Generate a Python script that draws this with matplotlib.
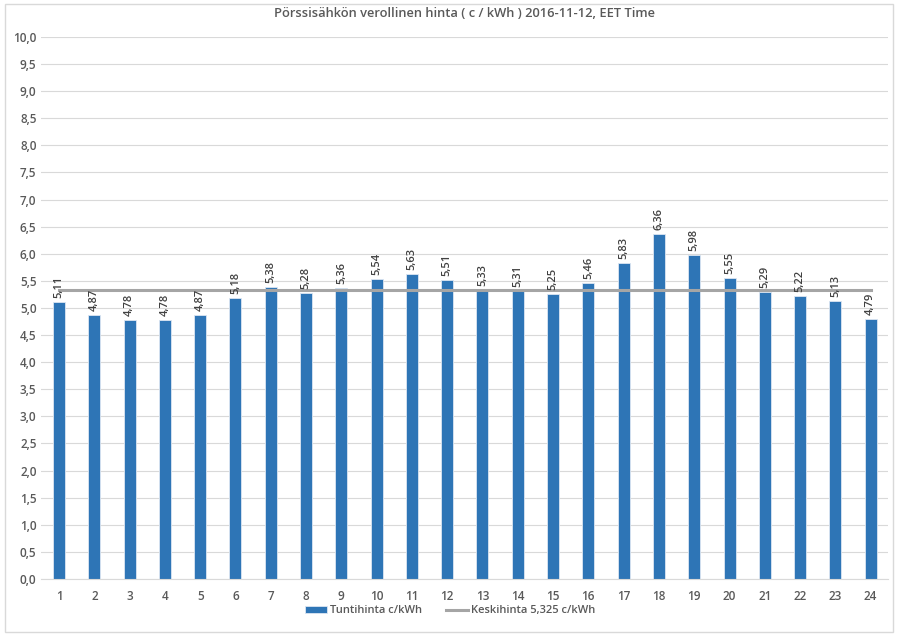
import matplotlib.pyplot as plt
from matplotlib.patches import Rectangle

hours = list(range(1, 25))
prices = [5.11, 4.87, 4.78, 4.78, 4.87, 5.18, 5.38, 5.28, 5.36, 5.54, 5.63, 5.51,
          5.33, 5.31, 5.25, 5.46, 5.83, 6.36, 5.98, 5.55, 5.29, 5.22, 5.13, 4.79]
average = 5.325
yticks = [i * 0.5 for i in range(21)]

plt.rcParams['font.family'] = ['Open Sans', 'DejaVu Sans']
txt = '#595959'

fig = plt.figure(figsize=(9, 6.36), dpi=100)
ax = fig.add_axes([0.046, 0.0896, 0.941, 0.8524])

bars = ax.bar(hours, prices, width=0.34, color='#2E75B6', edgecolor='#DCE6F2',
              lw=0.6, zorder=2)
line, = ax.plot(hours, [average] * len(hours), color='#A5A5A5', lw=2.2, zorder=3)

for h, p in zip(hours, prices):
    ax.annotate(f'{p:.2f}'.replace('.', ','), (h, p), xytext=(0, 3),
                textcoords='offset points', rotation=90, ha='center', va='bottom',
                fontsize=8, color='#404040', fontweight='semibold', zorder=4)

ax.set_xlim(0.5, 24.5)
ax.set_ylim(0, 10)
ax.set_yticks(yticks)
ax.set_yticklabels([f'{v:.1f}'.replace('.', ',') for v in yticks])
ax.set_xticks(hours)
ax.tick_params(length=0, labelsize=8.5, colors=txt)
ax.tick_params(axis='x', pad=8)
for lab in ax.get_xticklabels() + ax.get_yticklabels():
    lab.set_fontweight('semibold')
ax.grid(axis='y', color='#D9D9D9', lw=0.8, zorder=0)
for s in ['top', 'right', 'left']:
    ax.spines[s].set_visible(False)
ax.spines['bottom'].set_color('#D9D9D9')

ax.set_title('Pörssisähkön verollinen hinta ( c / kWh ) 2016-11-12, EET Time',
             fontsize=9.3, color=txt, fontweight='semibold', pad=14)

leg = fig.legend([bars, line], ['Tuntihinta c/kWh', 'Keskihinta 5,325 c/kWh'],
                 loc='lower center', bbox_to_anchor=(0.5, 0.015), ncol=2, frameon=False,
                 fontsize=8, labelcolor=txt, handlelength=2.0, columnspacing=2.2,
                 handletextpad=0.2)
for t in leg.get_texts():
    t.set_fontweight('semibold')

fig.patches.append(Rectangle((0.006, 0.006), 0.986, 0.988, transform=fig.transFigure,
                             fill=False, edgecolor='#D9D9D9', lw=1))

fig.savefig('out.png', dpi=100)
